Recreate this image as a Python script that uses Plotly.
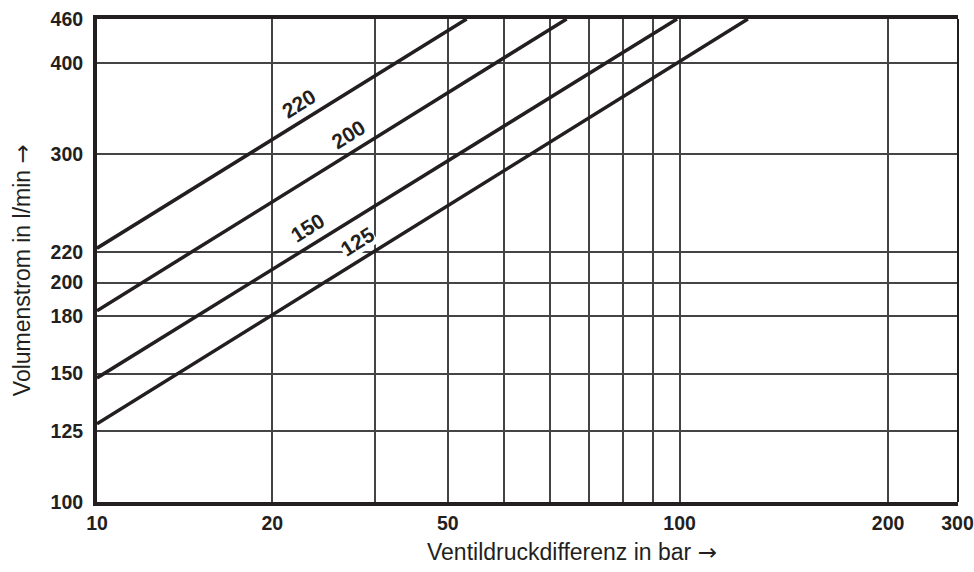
import numpy as np
import plotly.graph_objects as go

# ---- data ----
series_names = ["220", "200", "150", "125"]
# each line: pressure difference (bar) at start / end, flow (l/min) at start / end
dp_220 = [10, 43.1]
q_220 = [223, 460]
dp_200 = [10, 64.0]
q_200 = [183, 460]
dp_150 = [10, 99.0]
q_150 = [148, 460]
dp_125 = [10, 131.0]
q_125 = [128, 460]

x_grid_vals = [10, 20, 30, 40, 50, 60, 70, 80, 90, 100, 228, 300]
x_tick_text = ["10", "20", "", "50", "", "", "", "", "", "100", "200", "300"]
y_tick_vals = [100, 125, 150, 180, 200, 220, 300, 400, 460]
y_tick_text = ["100", "125", "150", "180", "200", "220", "300", "400", "460"]

# label anchor (x in bar) along each line
label_x = {"220": 22.2, "200": 27.0, "150": 23.0, "125": 28.0}

ARROW = '<span style="font-family:DejaVu Sans">\u2192</span>'
x_title = "Ventildruckdifferenz in bar " + ARROW
y_title = "Volumenstrom in l/min " + ARROW

LINE = "#231f20"
GRID = "#444444"
BOLD_FONT = "Liberation Sans, Arial, Helvetica, sans-serif"
REG_FONT = "Liberation Sans, Arial, Helvetica, sans-serif"

fig = go.Figure()
data = {"220": (dp_220, q_220), "200": (dp_200, q_200),
        "150": (dp_150, q_150), "125": (dp_125, q_125)}
for name in series_names:
    xs, ys = data[name]
    fig.add_trace(go.Scatter(x=xs, y=ys, mode="lines", name=name,
                             line=dict(color=LINE, width=3.5),
                             showlegend=False, hoverinfo="skip"))

# line labels placed on each line (interpolated in log space), shifted upward
for name in series_names:
    xs, ys = data[name]
    lx = np.log10(label_x[name])
    lx0, lx1 = np.log10(xs[0]), np.log10(xs[1])
    ly0, ly1 = np.log10(ys[0]), np.log10(ys[1])
    ly = ly0 + (lx - lx0) * (ly1 - ly0) / (lx1 - lx0)
    fig.add_annotation(x=lx, y=ly, xref="x", yref="y", text=name,
                       showarrow=False, textangle=-32, yshift=20,
                       font=dict(family=BOLD_FONT, size=21, color=LINE, weight="bold"),
                       bgcolor="white" if name == "125" else None,
                       borderpad=0)

fig.update_xaxes(type="log", range=[np.log10(10), np.log10(300.6)],
                 tickmode="array", tickvals=x_grid_vals, ticktext=x_tick_text,
                 showgrid=True, gridcolor=GRID, gridwidth=1.5,
                 showline=True, linecolor=LINE, linewidth=4, mirror=True,
                 ticks="", zeroline=False, automargin=False,
                 tickfont=dict(family=BOLD_FONT, size=19.5, color=LINE, weight="bold"),
                 ticklabelstandoff=1)
fig.update_yaxes(type="log", range=[np.log10(100), np.log10(460)],
                 tickmode="array", tickvals=y_tick_vals, ticktext=y_tick_text,
                 showgrid=True, gridcolor=GRID, gridwidth=1.5,
                 showline=True, linecolor=LINE, linewidth=4,
                 ticks="", zeroline=False, automargin=False,
                 tickfont=dict(family=BOLD_FONT, size=19.5, color=LINE, weight="bold"),
                 ticklabelstandoff=6)

# right border (thin)
fig.add_shape(type="line", xref="paper", yref="paper", x0=1, x1=1, y0=0, y1=1,
              line=dict(color=LINE, width=2))

fig.add_annotation(text=x_title, xref="paper", yref="paper", x=0.5517, y=-0.1035,
                   xanchor="center", yanchor="middle",
                   showarrow=False, font=dict(family=REG_FONT, size=23, color=LINE))
fig.add_annotation(text=y_title, xref="paper", yref="paper", x=-0.0871, y=0.48,
                   xanchor="center", yanchor="middle",
                   textangle=-90, showarrow=False,
                   font=dict(family=REG_FONT, size=23, color=LINE))

fig.update_layout(width=974, height=572,
                  margin=dict(l=97, r=16, t=19, b=70, autoexpand=False),
                  plot_bgcolor="white", paper_bgcolor="white")

fig.write_html("out.html", config={"displayModeBar": False},
               post_script="document.body.style.margin='0';document.body.style.overflow='hidden';")
